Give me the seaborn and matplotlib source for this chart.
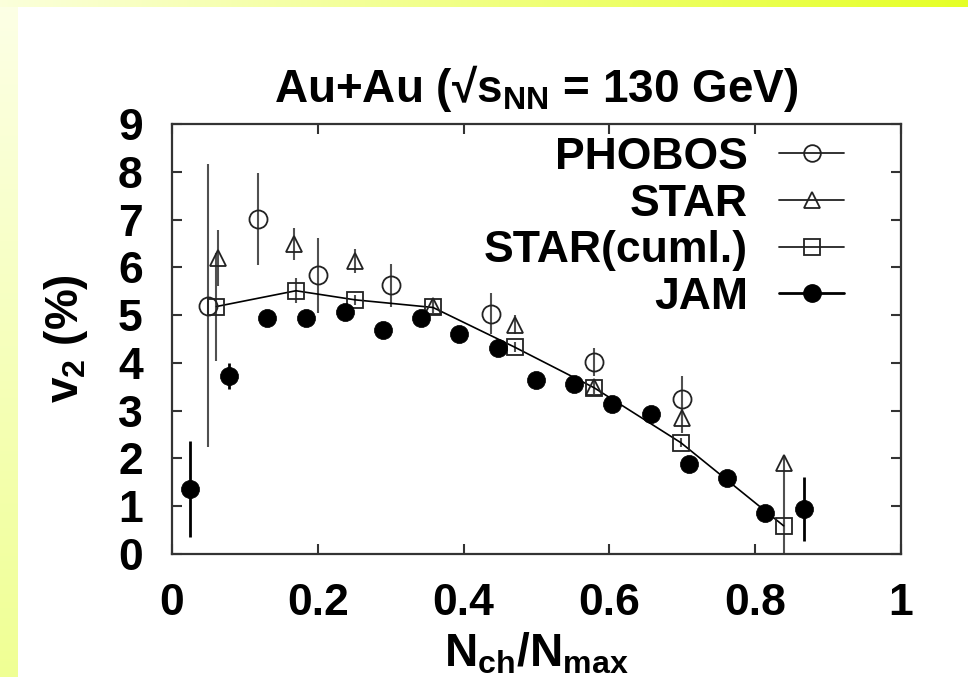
import numpy as np
import matplotlib
matplotlib.use("Agg")
import matplotlib.pyplot as plt
from matplotlib.lines import Line2D
import seaborn as sns

# ---------------- data ----------------
jam_x = [0.025, 0.078, 0.131, 0.184, 0.237, 0.290, 0.342, 0.394, 0.447,
         0.499, 0.551, 0.604, 0.657, 0.709, 0.762, 0.814, 0.867]
jam_y = [1.36, 3.72, 4.95, 4.93, 5.07, 4.68, 4.94, 4.61, 4.32,
         3.65, 3.55, 3.13, 2.92, 1.88, 1.60, 0.85, 0.94]
jam_err = [1.0, 0.27, 0.15, 0.12, 0.15, 0.12, 0.12, 0.12, 0.12,
           0.12, 0.12, 0.15, 0.12, 0.15, 0.12, 0.15, 0.67]

phobos_x = [0.050, 0.118, 0.200, 0.300, 0.438, 0.579, 0.700]
phobos_y = [5.20, 7.01, 5.83, 5.62, 5.03, 4.02, 3.25]
phobos_err = [2.96, 0.96, 0.79, 0.46, 0.43, 0.30, 0.47]

star_x = [0.063, 0.167, 0.251, 0.358, 0.470, 0.579, 0.700, 0.839]
star_y = [6.19, 6.49, 6.14, 5.20, 4.80, 3.50, 2.84, 1.91]
star_err_lo = [0.59, 0.33, 0.25, 0.15, 0.20, 0.15, 0.30, 1.91]
star_err_hi = [0.59, 0.33, 0.25, 0.15, 0.20, 0.15, 0.30, 0.15]

cuml_x = [0.061, 0.170, 0.251, 0.358, 0.470, 0.579, 0.698, 0.839]
cuml_y = [5.18, 5.51, 5.32, 5.16, 4.33, 3.48, 2.33, 0.59]
cuml_err = [1.13, 0.26, 0.10, 0.10, 0.10, 0.10, 0.10, 0.10]

series_labels = ["PHOBOS", "STAR", "STAR(cuml.)", "JAM"]
x_ticks = [0, 0.2, 0.4, 0.6, 0.8, 1]
x_tick_labels = ["0", "0.2", "0.4", "0.6", "0.8", "1"]
y_ticks = list(range(0, 10))

# ---------------- style ----------------
sns.set_theme(style="ticks")
FONT = "Liberation Sans"
plt.rcParams["font.family"] = [FONT, "DejaVu Sans"]
plt.rcParams["font.weight"] = "bold"
plt.rcParams["text.color"] = "black"
plt.rcParams["axes.labelcolor"] = "black"
plt.rcParams["xtick.color"] = "black"
plt.rcParams["ytick.color"] = "black"
plt.rcParams["mathtext.fontset"] = "custom"
plt.rcParams["mathtext.rm"] = FONT + ":bold"
plt.rcParams["mathtext.it"] = FONT + ":bold"
plt.rcParams["mathtext.bf"] = FONT + ":bold"
plt.rcParams["axes.linewidth"] = 1.6
plt.rcParams["axes.edgecolor"] = "#333333"

FS = 32

W, H = 968, 677
fig = plt.figure(figsize=(W / 100, H / 100), dpi=100, facecolor="white")

# background: yellow gradient bands (top and left)
bg = np.ones((H, W, 3))
top_h, left_w = 7, 18
pale = np.array([0.985, 1.0, 0.86])
bright = np.array([0.90, 1.0, 0.15])
t = np.linspace(0, 1, W)[:, None]
bg[:top_h, :, :] = (pale * (1 - t) + bright * t)[None, :, :]
lb_top = np.array([0.99, 1.0, 0.90])
lb_bot = np.array([0.94, 1.0, 0.58])
s = np.linspace(0, 1, H - top_h)[:, None]
bg[top_h:, :left_w, :] = (lb_top * (1 - s) + lb_bot * s)[:, None, :]
fig.figimage(bg, xo=0, yo=0, origin="upper", zorder=-5)

ax = fig.add_axes([172 / W, 1 - 554 / H, (901 - 172) / W, (554 - 124) / H])
ax.set_facecolor("white")

# error bars
ebar_kw = dict(fmt="none", ecolor="#505050", elinewidth=1.5, capsize=0, zorder=2)
ax.errorbar(phobos_x, phobos_y, yerr=phobos_err, **ebar_kw)
ax.errorbar(star_x, star_y, yerr=[star_err_lo, star_err_hi], **ebar_kw)
ax.errorbar(cuml_x, cuml_y, yerr=cuml_err, **ebar_kw)
ax.errorbar(jam_x, jam_y, yerr=jam_err, fmt="none", ecolor="black",
            elinewidth=2.0, capsize=0, zorder=2)

# STAR(cuml.) connecting line
sns.lineplot(x=cuml_x, y=cuml_y, color="black", lw=1.2, sort=False,
             ax=ax, legend=False, zorder=3)

# markers
ax.plot(phobos_x, phobos_y, ls="none", marker="o", ms=13, mfc="none",
        mec="#222222", mew=1.3, zorder=4)
ax.plot(star_x, star_y, ls="none", marker="^", ms=12, mfc="none",
        mec="#222222", mew=1.3, zorder=4)
ax.plot(cuml_x, cuml_y, ls="none", marker="s", ms=12, mfc="none",
        mec="#222222", mew=1.3, zorder=4)
sns.scatterplot(x=jam_x, y=jam_y, color="black", s=170, edgecolor="black",
                linewidth=0.5, ax=ax, legend=False, zorder=5)

ax.set_xlim(0, 1)
ax.set_ylim(0, 9)
ax.set_xticks(x_ticks)
ax.set_xticklabels(x_tick_labels)
ax.set_yticks(y_ticks)
for sp in ax.spines.values():
    sp.set_visible(True)
ax.tick_params(direction="in", top=True, right=True, length=7, width=1.5,
               color="#333333", labelcolor="black", labelsize=FS, pad=21)
for lab in ax.get_xticklabels() + ax.get_yticklabels():
    lab.set_fontweight("bold")

ax.set_title(r"Au+Au (√s$_{\rm NN}$ = 130 GeV)", fontsize=FS + 1,
             fontweight="bold", pad=16)
ax.set_ylabel(r"v$_2$ (%)", fontsize=FS + 1, fontweight="bold")
ax.set_xlabel(r"N$_{\rm ch}$/N$_{\rm max}$", fontsize=FS + 1, fontweight="bold")
ax.yaxis.set_label_coords(-0.112, 0.5)
ax.xaxis.set_label_coords(0.5, -0.18)

# legend
handles = [
    Line2D([0], [0], color="#222222", lw=1.3, marker="o", ms=12, mfc="none", mew=1.3),
    Line2D([0], [0], color="#222222", lw=1.3, marker="^", ms=11, mfc="none", mew=1.3),
    Line2D([0], [0], color="#222222", lw=1.3, marker="s", ms=11, mfc="none", mew=1.3),
    Line2D([0], [0], color="black", lw=2.0, marker="o", ms=12.5, mfc="black"),
]
leg = ax.legend(handles, series_labels, loc="upper right",
                bbox_to_anchor=(844 / W, 1 - 137 / H),
                bbox_transform=fig.transFigure, frameon=False,
                markerfirst=False, handlelength=1.46, handletextpad=0.7,
                labelspacing=0.125, borderpad=0, borderaxespad=0,
                prop={"family": FONT, "weight": "bold", "size": FS})

fig.savefig("out.png", dpi=100, facecolor="white")
